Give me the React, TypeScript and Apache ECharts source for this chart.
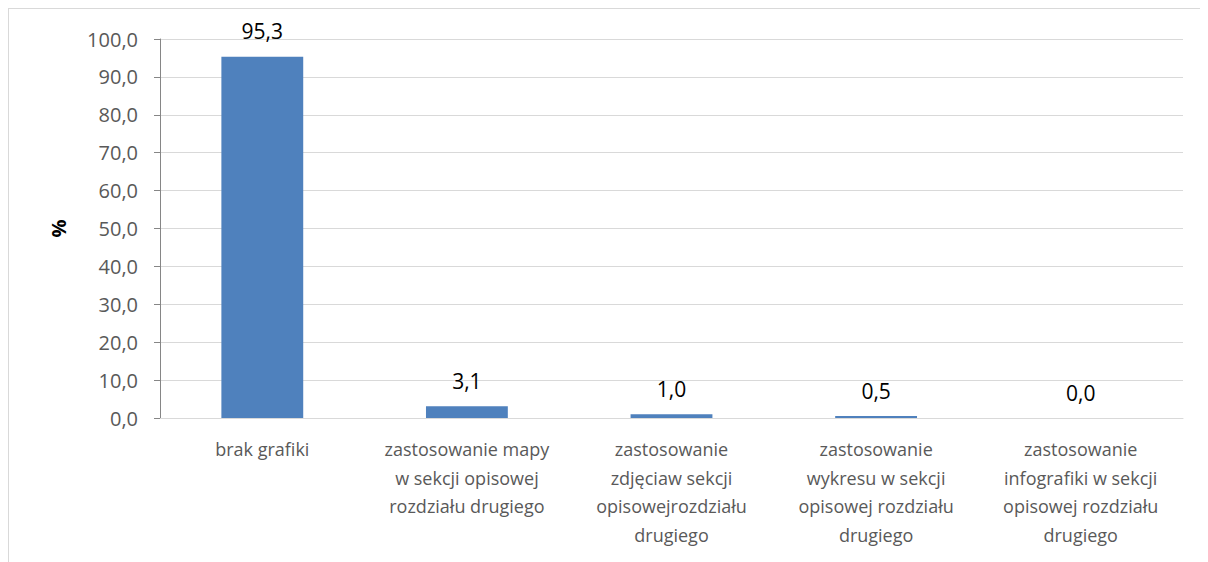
import React, { useEffect, useRef } from "react";
import * as echarts from "echarts";

const categories = [
  "brak grafiki",
  "zastosowanie mapy\nw sekcji opisowej\nrozdziału drugiego",
  "zastosowanie\nzdjęciaw sekcji\nopisowejrozdziału\ndrugiego",
  "zastosowanie\nwykresu w sekcji\nopisowej rozdziału\ndrugiego",
  "zastosowanie\ninfografiki w sekcji\nopisowej rozdziału\ndrugiego",
];
const values = [95.3, 3.1, 1.0, 0.5, 0.0];

const FONT = "'Open Sans', sans-serif";

export default function App() {
  const ref = useRef<HTMLDivElement>(null);
  useEffect(() => {
    if (!ref.current) return;
    const chart = echarts.init(ref.current, undefined, { renderer: "svg" });
    chart.setOption({
      animation: false,
      grid: { left: 151, top: 30, width: 1023, height: 379, containLabel: false },
      xAxis: {
        type: "category",
        data: categories,
        axisLine: { lineStyle: { color: "#d9d9d9", width: 1 } },
        axisTick: { show: false },
        axisLabel: {
          color: "#595959",
          fontFamily: FONT,
          fontSize: 18,
          lineHeight: 28.5,
          margin: 17,
          interval: 0,
        },
      },
      yAxis: {
        type: "value",
        min: 0,
        max: 100,
        interval: 10,
        name: "%",
        nameLocation: "middle",
        nameGap: 92,
        nameRotate: 90,
        nameTextStyle: { color: "#000", fontFamily: FONT, fontSize: 20, fontWeight: "bold" },
        axisLine: { show: true, lineStyle: { color: "#868686", width: 1 } },
        axisTick: { show: true, length: 6, lineStyle: { color: "#868686" } },
        splitLine: { lineStyle: { color: "#d9d9d9", width: 1 } },
        axisLabel: {
          color: "#595959",
          fontFamily: FONT,
          fontSize: 20,
          margin: 22,
          formatter: (v: number) => v.toFixed(1).replace(".", ","),
        },
      },
      series: [
        {
          type: "bar",
          data: values,
          barWidth: "40%",
          itemStyle: { color: "#4f81bd" },
          label: {
            show: true,
            position: "top",
            distance: 15,
            color: "#000",
            fontFamily: FONT,
            fontSize: 21,
            formatter: (p: any) => Number(p.value).toFixed(1).replace(".", ","),
          },
        },
      ],
    });
    return () => chart.dispose();
  }, []);
  return (
    <div
      style={{
        width: 1200,
        height: 554,
        borderTop: "1px solid #d9d9d9",
        borderLeft: "1px solid #d9d9d9",
        boxSizing: "border-box",
        overflow: "hidden",
      }}
    >
      <div ref={ref} style={{ width: 1199, height: 553 }} />
    </div>
  );
}
